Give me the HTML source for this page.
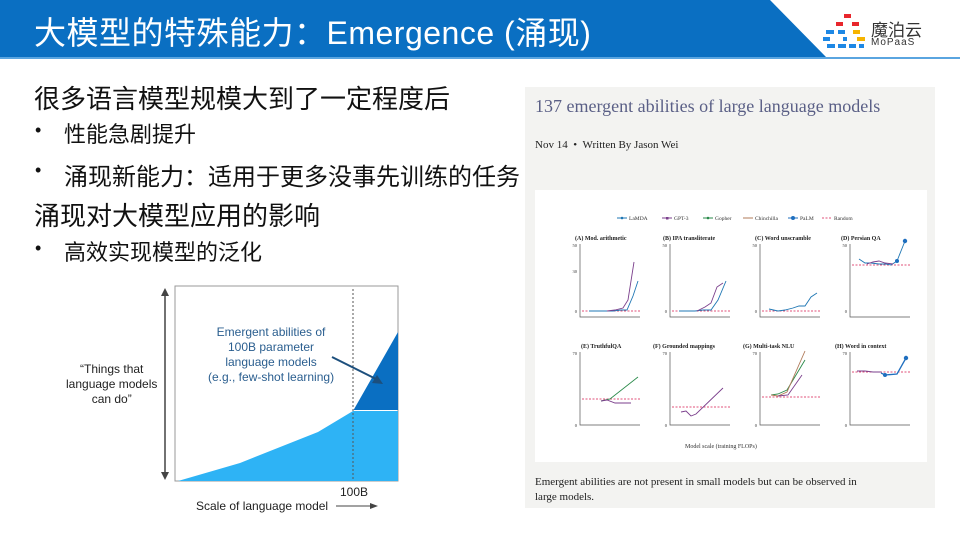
<!DOCTYPE html>
<html><head><meta charset="utf-8"><style>
body{margin:0;width:960px;height:540px;overflow:hidden;background:#fff;position:relative;font-family:"Liberation Sans","Noto Sans CJK SC",sans-serif}
.t{position:absolute;white-space:nowrap;color:#111}
.b{position:absolute;white-space:nowrap;color:#111;font-size:22px}
.b span{position:absolute;left:-29px;font-size:18px;top:3px}
</style></head><body>
<svg width="960" height="540" style="position:absolute;left:0;top:0">
<polygon points="0,0 770,0 826,57 0,57" fill="#0a6fc2"/>
<rect x="0" y="57" width="960" height="2" fill="#5aa5e0"/>
<g>
<rect x="844" y="14" width="7" height="4" fill="#e8262c"/>
<rect x="836" y="22" width="7" height="4" fill="#e8262c"/><rect x="852" y="22" width="7" height="4" fill="#e8262c"/>
<rect x="826" y="30" width="8" height="4" fill="#1e88e5"/><rect x="838" y="30" width="7" height="4" fill="#1e88e5"/><rect x="853" y="30" width="7" height="4" fill="#f6b400"/>
<rect x="823" y="37" width="7" height="4" fill="#1e88e5"/><rect x="843" y="37" width="4" height="4" fill="#1e88e5"/><rect x="857" y="37" width="8" height="4" fill="#f6b400"/>
<rect x="827" y="44" width="8" height="4" fill="#1e88e5"/><rect x="838" y="44" width="8" height="4" fill="#1e88e5"/><rect x="849" y="44" width="7" height="4" fill="#1e88e5"/><rect x="859" y="44" width="5" height="4" fill="#1e88e5"/>
</g>
<rect x="175" y="286" width="223" height="195" fill="#fff" stroke="#999" stroke-width="1"/>
<polygon points="178,481 240,463 318,432 353,411 398,411 398,481" fill="#2eb3f5"/>
<polygon points="353,411 398,332 398,410 353,410" fill="#0a6fc2"/>
<line x1="353" y1="289" x2="353" y2="481" stroke="#555" stroke-dasharray="2,2"/>
<line x1="165" y1="292" x2="165" y2="476" stroke="#444" stroke-width="1.5"/>
<polygon points="165,288 161,296 169,296" fill="#444"/><polygon points="165,480 161,472 169,472" fill="#444"/>
<line x1="332" y1="357" x2="378" y2="380" stroke="#1c4f7d" stroke-width="2"/>
<polygon points="383,384 372,383 377,375" fill="#1c4f7d"/>
<line x1="336" y1="506" x2="372" y2="506" stroke="#444" stroke-width="1"/>
<polygon points="378,506 370,503 370,509" fill="#444"/>
<rect x="525" y="87" width="410" height="421" fill="#f3f3f1"/>
<rect x="535" y="190" width="392" height="272" fill="#fff"/>
</svg>
<div class="t" style="left:34px;top:8px;font-size:32px;color:#fff;letter-spacing:0.5px">大模型的特殊能力：Emergence (涌现)</div>
<div class="t" style="left:871px;top:16px;font-size:17px;color:#333">魔泊云</div>
<div class="t" style="left:871px;top:37px;font-size:10px;color:#333;letter-spacing:1px">MoPaaS</div>
<div class="t" style="left:34px;top:79px;font-size:26px">很多语言模型规模大到了一定程度后</div>
<div class="b" style="left:64px;top:117px"><span>•</span>性能急剧提升</div>
<div class="b" style="left:64px;top:157px;font-size:24px"><span>•</span>涌现新能力：适用于更多没事先训练的任务</div>
<div class="t" style="left:34px;top:196px;font-size:26px">涌现对大模型应用的影响</div>
<div class="b" style="left:64px;top:235px"><span>•</span>高效实现模型的泛化</div>
<div class="t" style="left:66px;top:362px;font-size:12px;text-align:center;line-height:15px;color:#222">“Things that<br>language models<br>can do”</div>
<div class="t" style="left:208px;top:325px;font-size:12px;text-align:center;line-height:15px;color:#2a5e8f">Emergent abilities of<br>100B parameter<br>language models<br>(e.g., few-shot learning)</div>
<div class="t" style="left:340px;top:485px;font-size:12px;color:#222">100B</div>
<div class="t" style="left:196px;top:499px;font-size:12px;color:#222">Scale of language model</div>
<div class="t" style="left:535px;top:96px;font-size:18px;color:#5a5f86;font-family:'Liberation Serif',serif">137 emergent abilities of large language models</div>
<div class="t" style="left:535px;top:139px;font-size:11px;color:#222;font-family:'Liberation Serif',serif">Nov 14 &nbsp;• &nbsp;Written By Jason Wei</div>
<div class="t" style="left:535px;top:475px;font-size:11px;line-height:15px;color:#222;font-family:'Liberation Serif',serif">Emergent abilities are not present in small models but can be observed in<br>large models.</div>
<svg width="392" height="272" style="position:absolute;left:535px;top:190px" font-family="Liberation Serif,serif">
<g font-size="5.5" fill="#333">
<line x1="82" y1="28" x2="92" y2="28" stroke="#1f77b4"/><circle cx="87" cy="28" r="1.3" fill="#1f77b4"/><text x="94" y="30">LaMDA</text>
<line x1="127" y1="28" x2="137" y2="28" stroke="#7b3f8c"/><rect x="131" y="27" width="2.5" height="2.5" fill="#7b3f8c"/><text x="139" y="30">GPT-3</text>
<line x1="168" y1="28" x2="178" y2="28" stroke="#2a8a4a"/><circle cx="173" cy="28" r="1.3" fill="#2a8a4a"/><text x="180" y="30">Gopher</text>
<line x1="208" y1="28" x2="218" y2="28" stroke="#b07b5a"/><text x="220" y="30">Chinchilla</text>
<line x1="253" y1="28" x2="263" y2="28" stroke="#1f6fbf"/><circle cx="258" cy="28" r="2" fill="#1f6fbf"/><text x="265" y="30">PaLM</text>
<line x1="287" y1="28" x2="297" y2="28" stroke="#e0507a" stroke-dasharray="2,1.5"/><text x="299" y="30">Random</text>
</g>
<g font-size="6" font-weight="bold" fill="#222">
<text x="40" y="50">(A) Mod. arithmetic</text><text x="128" y="50">(B) IPA transliterate</text><text x="220" y="50">(C) Word unscramble</text><text x="306" y="50">(D) Persian QA</text>
<text x="46" y="158">(E) TruthfulQA</text><text x="118" y="158">(F) Grounded mappings</text><text x="208" y="158">(G) Multi-task NLU</text><text x="300" y="158">(H) Word in context</text>
</g>
<g stroke="#555" stroke-width="0.7" fill="none">
<path d="M45,54V127H105"/><path d="M135,54V127H195"/><path d="M225,54V127H285"/><path d="M315,54V127H375"/>
<path d="M45,162V235H105"/><path d="M135,162V235H195"/><path d="M225,162V235H285"/><path d="M315,162V235H375"/>
</g>
<g stroke="#e0507a" stroke-width="0.9" stroke-dasharray="2,1.5">
<path d="M47,121H105M137,121H195M227,121H285M317,75H375M47,209H105M137,217H195M227,207H285M317,182H375"/>
</g>
<g fill="none" stroke-width="0.9">
<polyline stroke="#1f77b4" points="54,121 63,121 70,121 78,121 86,120 92,120 98,106 103,91"/>
<polyline stroke="#7b3f8c" points="72,121 80,120 88,118 93,110 99,72"/>
<polyline stroke="#1f77b4" points="144,121 153,121 160,121 168,120 176,120 183,110 191,91"/>
<polyline stroke="#7b3f8c" points="162,121 170,117 176,113 182,97 188,93"/>
<polyline stroke="#1f77b4" points="234,119 243,121 250,120 258,118 264,116 270,116 276,107 282,103"/>
<polyline stroke="#1f77b4" points="324,69 330,73 336,73 344,74 351,74 356,75 362,71 370,51"/>
<polyline stroke="#7b3f8c" points="332,74 338,72 344,71 350,73 358,74"/>
<polyline stroke="#2a8a4a" points="66,211 75,209 103,187"/>
<polyline stroke="#7b3f8c" points="66,211 72,210 80,213 96,213"/>
<polyline stroke="#7b3f8c" points="146,222 151,221 156,226 161,224 188,198"/>
<polyline stroke="#2a8a4a" points="236,205 243,204 252,200 270,170"/>
<polyline stroke="#b07b5a" points="236,205 243,206 252,202 270,161"/>
<polyline stroke="#7b3f8c" points="243,206 253,205 267,185"/>
<polyline stroke="#7b3f8c" points="322,181 330,181 338,182 346,182"/>
<polyline stroke="#1f6fbf" stroke-width="1.3" points="346,183 350,185 362,184 371,168"/>
</g>
<g fill="#1f6fbf"><circle cx="370" cy="51" r="2.2"/><circle cx="362" cy="71" r="2"/><circle cx="371" cy="168" r="2.2"/><circle cx="350" cy="185" r="2"/></g>
<g font-size="4.5" fill="#333" text-anchor="end">
<text x="42" y="57">50</text><text x="42" y="83">30</text><text x="42" y="123">0</text>
<text x="132" y="57">50</text><text x="132" y="123">0</text><text x="222" y="57">50</text><text x="222" y="123">0</text><text x="312" y="57">50</text><text x="312" y="123">0</text>
<text x="42" y="165">70</text><text x="42" y="237">0</text><text x="132" y="165">70</text><text x="132" y="237">0</text><text x="222" y="165">70</text><text x="222" y="237">0</text><text x="312" y="165">70</text><text x="312" y="237">0</text>
</g>
<text x="150" y="258" font-size="6" fill="#333">Model scale (training FLOPs)</text>
</svg>
</body></html>
